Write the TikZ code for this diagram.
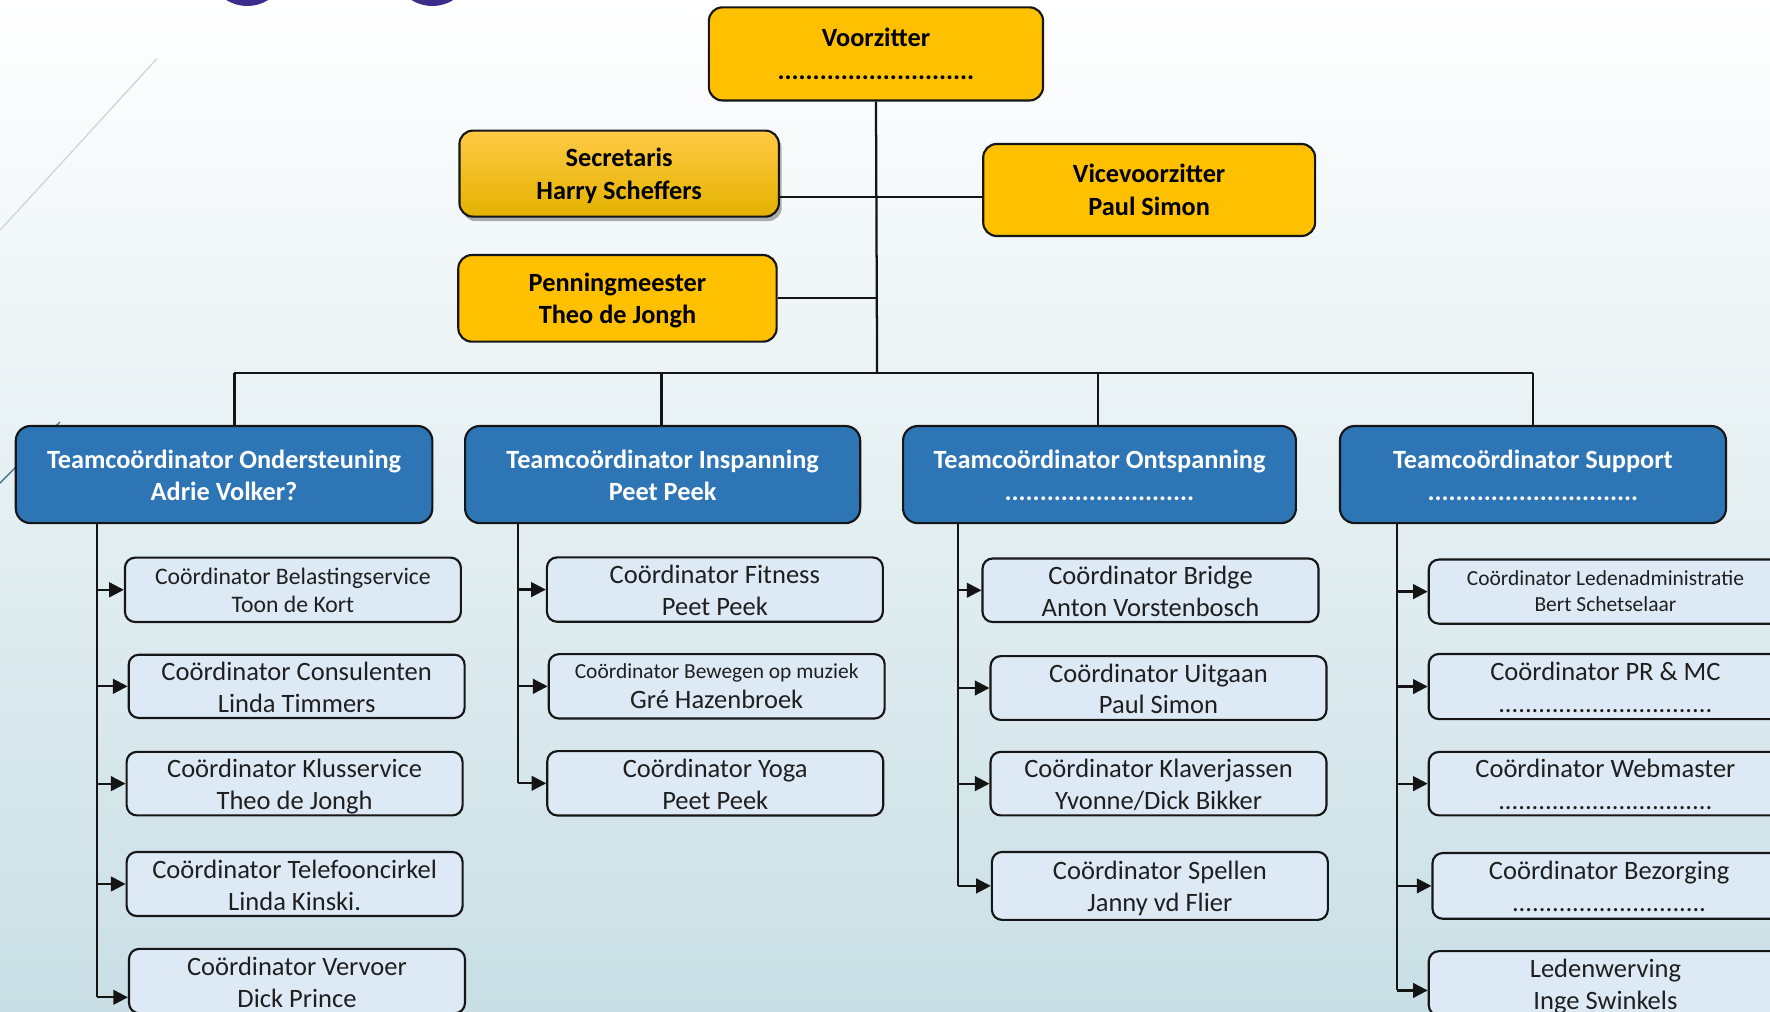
\documentclass[tikz,border=0pt]{standalone}
\usepackage{fontspec}
\setmainfont{Carlito}
\usetikzlibrary{arrows.meta,shadows}
\definecolor{yel}{HTML}{FFC000}
\definecolor{yeltop}{HTML}{FFCA45}
\definecolor{yelbot}{HTML}{E4B200}
\definecolor{blu}{HTML}{2E75B6}
\definecolor{chf}{HTML}{DDEAF6}
\definecolor{bord}{HTML}{161616}
\definecolor{purp}{HTML}{3C2D8C}
\definecolor{bgbot}{HTML}{C9DFE5}
\definecolor{decoA}{HTML}{C9D5DB}
\definecolor{decoB}{HTML}{3A6A85}
% two centred lines; #1 = baselineskip, #2 = twice the distance from box centre up to first baseline
\newcommand\twol[4]{\raisebox{0pt}[0pt][#2]{\vtop{\baselineskip=#1\relax\lineskiplimit=-\maxdimen\lineskip=0pt\halign{\hfil##\hfil\cr#3\cr#4\cr}}}}
\tikzset{
  ybox/.style={draw=bord, line width=1.9pt, rounded corners=12pt, fill=yel, text=black,
    font=\fontsize{23.3}{29}\selectfont\bfseries, inner sep=0pt},
  bbox/.style={draw=bord, line width=1.9pt, rounded corners=13pt, fill=blu, text=white,
    font=\fontsize{23.3}{28}\selectfont\bfseries, inner sep=0pt, minimum height=86pt},
  cbox/.style={draw=bord, line width=1.9pt, rounded corners=9pt, fill=chf, text=black!88,
    font=\fontsize{23.5}{28}\selectfont, inner sep=0pt, minimum width=297.6pt, minimum height=57pt},
  wbox/.style={cbox, minimum width=313pt},
  conn/.style={draw=black!92, line width=2pt},
  arr/.style={conn, -{Triangle[length=13pt,width=13pt]}},
}
\begin{document}
\begin{tikzpicture}[x=1pt,y=-1pt]
\useasboundingbox (0,0) rectangle (1568,896);
\clip (0,0) rectangle (1568,896);
\fill[top color=white, bottom color=bgbot] (0,0) rectangle (1568,896);
% decorations
\fill[purp] (219,-29.7) circle (35);
\fill[purp] (383,-29.7) circle (35);
\draw[decoA, line width=1.1pt] (139,52) -- (0,204);
\draw[decoB, line width=1.1pt] (0,428) -- (53,374);

% board
\node[ybox, minimum width=296pt, minimum height=82.5pt] (voor) at (776,47.75)
  {\twol{29pt}{12.8pt}{Voorzitter}{............................}};
\node[ybox, top color=yeltop, middle color=yel, bottom color=yelbot,
  drop shadow={shadow xshift=2.5pt, shadow yshift=-4pt, opacity=0.3, fill=black},
  minimum width=283pt, minimum height=76.2pt] (secr) at (548.5,153.8)
  {\twol{29pt}{12.4pt}{Secretaris}{Harry Scheffers}};
\node[ybox, minimum width=294pt, minimum height=81.5pt] (vice) at (1018,168.3)
  {\twol{29pt}{12.4pt}{Vicevoorzitter}{Paul Simon}};
\node[ybox, minimum width=282pt, minimum height=76.7pt] (penn) at (547,264.3)
  {\twol{29pt}{13pt}{Penningmeester}{Theo de Jongh}};

% team coordinators
\node[bbox, minimum width=369pt] (ond) at (198.5,420.4)
  {\twol{28pt}{10.6pt}{Teamcoördinator Ondersteuning}{Adrie Volker?}};
\node[bbox, minimum width=350pt] (insp) at (587,420.4)
  {\twol{28pt}{10.6pt}{Teamcoördinator Inspanning}{Peet Peek}};
\node[bbox, minimum width=348pt] (ontsp) at (974,420.4)
  {\twol{28pt}{10.6pt}{Teamcoördinator Ontspanning}{...........................}};
\node[bbox, minimum width=342pt] (supp) at (1358,420.4)
  {\twol{28pt}{10.6pt}{Teamcoördinator Support}{..............................}};

% column 1
\node[cbox, font=\fontsize{21}{25}\selectfont] (c1a) at (259.5,522.5)
  {\twol{25pt}{10.2pt}{Coördinator Belastingservice}{Toon de Kort}};
\node[cbox, minimum height=56pt] (c1b) at (262.8,608)
  {\twol{28.4pt}{10.6pt}{Coördinator Consulenten}{Linda Timmers}};
\node[cbox, minimum height=56.3pt] (c1c) at (261,694.2)
  {\twol{28.4pt}{10.6pt}{Coördinator Klusservice}{Theo de Jongh}};
\node[cbox, minimum height=56.8pt] (c1d) at (261,783.1)
  {\twol{28.4pt}{10.6pt}{Coördinator Telefooncirkel}{Linda Kinski.}};
\node[cbox] (c1e) at (263.1,869.1)
  {\twol{28.4pt}{10.6pt}{Coördinator Vervoer}{Dick Prince}};

% column 2
\node[cbox] (c2a) at (633.3,522.3)
  {\twol{28.2pt}{10.6pt}{Coördinator Fitness}{Peet Peek}};
\node[cbox] (c2b) at (634.9,608)
  {\twol{26.6pt}{14.4pt}{{\fontsize{19}{23}\selectfont Coördinator Bewegen op muziek}}{Gré Hazenbroek}};
\node[cbox] (c2c) at (633.6,693.9)
  {\twol{28.2pt}{10.6pt}{Coördinator Yoga}{Peet Peek}};

% column 3
\node[cbox, minimum height=56.3pt] (c3a) at (1019.2,522.9)
  {\twol{28.2pt}{10.6pt}{Coördinator Bridge}{Anton Vorstenbosch}};
\node[cbox, minimum height=56.5pt] (c3b) at (1026.3,609.5)
  {\twol{28.2pt}{10.6pt}{Coördinator Uitgaan}{Paul Simon}};
\node[cbox, minimum height=56.3pt] (c3c) at (1026.3,694.2)
  {\twol{28.2pt}{10.6pt}{Coördinator Klaverjassen}{Yvonne/Dick Bikker}};
\node[cbox, minimum height=60.2pt] (c3d) at (1027.5,784.8)
  {\twol{28.2pt}{11.4pt}{Coördinator Spellen}{Janny vd Flier}};

% column 4
\node[wbox, minimum height=56.8pt, font=\fontsize{19}{23}\selectfont] (c4a) at (1422.2,524.1)
  {\twol{22.8pt}{10.2pt}{Coördinator Ledenadministratie}{Bert Schetselaar}};
\node[wbox, minimum height=57.7pt] (c4b) at (1422.2,608.2)
  {\twol{28.3pt}{10.6pt}{Coördinator PR \& MC}{................................}};
\node[wbox, minimum height=56.2pt] (c4c) at (1422.2,694.2)
  {\twol{28.3pt}{10.6pt}{Coördinator Webmaster}{................................}};
\node[wbox, minimum height=58.2pt] (c4d) at (1425.5,784.8)
  {\twol{28.3pt}{10.6pt}{Coördinator Bezorging}{.............................}};
\node[wbox] (c4e) at (1422.2,871.1)
  {\twol{28.3pt}{10.6pt}{Ledenwerving}{Inge Swinkels}};

% board connectors
\coordinate (bus) at (777,330.7);
\coordinate (j1) at (776,174.2);
\draw[conn] (voor.south) -- (bus);
\draw[conn] (secr.east |- j1) -- (vice.west |- j1);
\draw[conn] (penn.east) -- (penn.east -| bus);

% bus and drops
\coordinate (d1) at (207.7,330.7);
\coordinate (d2) at (586,330.7);
\coordinate (d3) at (973,330.7);
\coordinate (d4) at (1358,330.7);
\draw[conn] (d1) -- (d4);
\draw[conn] (d1) -- (d1 |- ond.north);
\draw[conn] (d2) -- (d2 |- insp.north);
\draw[conn] (d3) -- (d3 |- ontsp.north);
\draw[conn] (d4) -- (d4 |- supp.north);

% spines
\coordinate (s1) at (85.6,463.5);
\coordinate (s2) at (459,463.5);
\coordinate (s3) at (848.5,463.5);
\coordinate (s4) at (1237.5,463.5);
\coordinate (e1) at ([yshift=-14.4pt]c1e.west);
\coordinate (e4) at ([yshift=-6.3pt]c4e.west);

\draw[conn] (s1) -- (s1 |- e1);
\foreach \c in {c1a,c1b,c1c,c1d} \draw[arr] (s1 |- \c.west) -- (\c.west);
\draw[arr] (s1 |- e1) -- (e1);

\draw[conn] (s2) -- (s2 |- c2c.west);
\foreach \c in {c2a,c2b,c2c} \draw[arr] (s2 |- \c.west) -- (\c.west);

\draw[conn] (s3) -- (s3 |- c3d.west);
\foreach \c in {c3a,c3b,c3c,c3d} \draw[arr] (s3 |- \c.west) -- (\c.west);

\draw[conn] (s4) -- (s4 |- e4);
\foreach \c in {c4a,c4b,c4c,c4d} \draw[arr] (s4 |- \c.west) -- (\c.west);
\draw[arr] (s4 |- e4) -- (e4);
\end{tikzpicture}
\end{document}
